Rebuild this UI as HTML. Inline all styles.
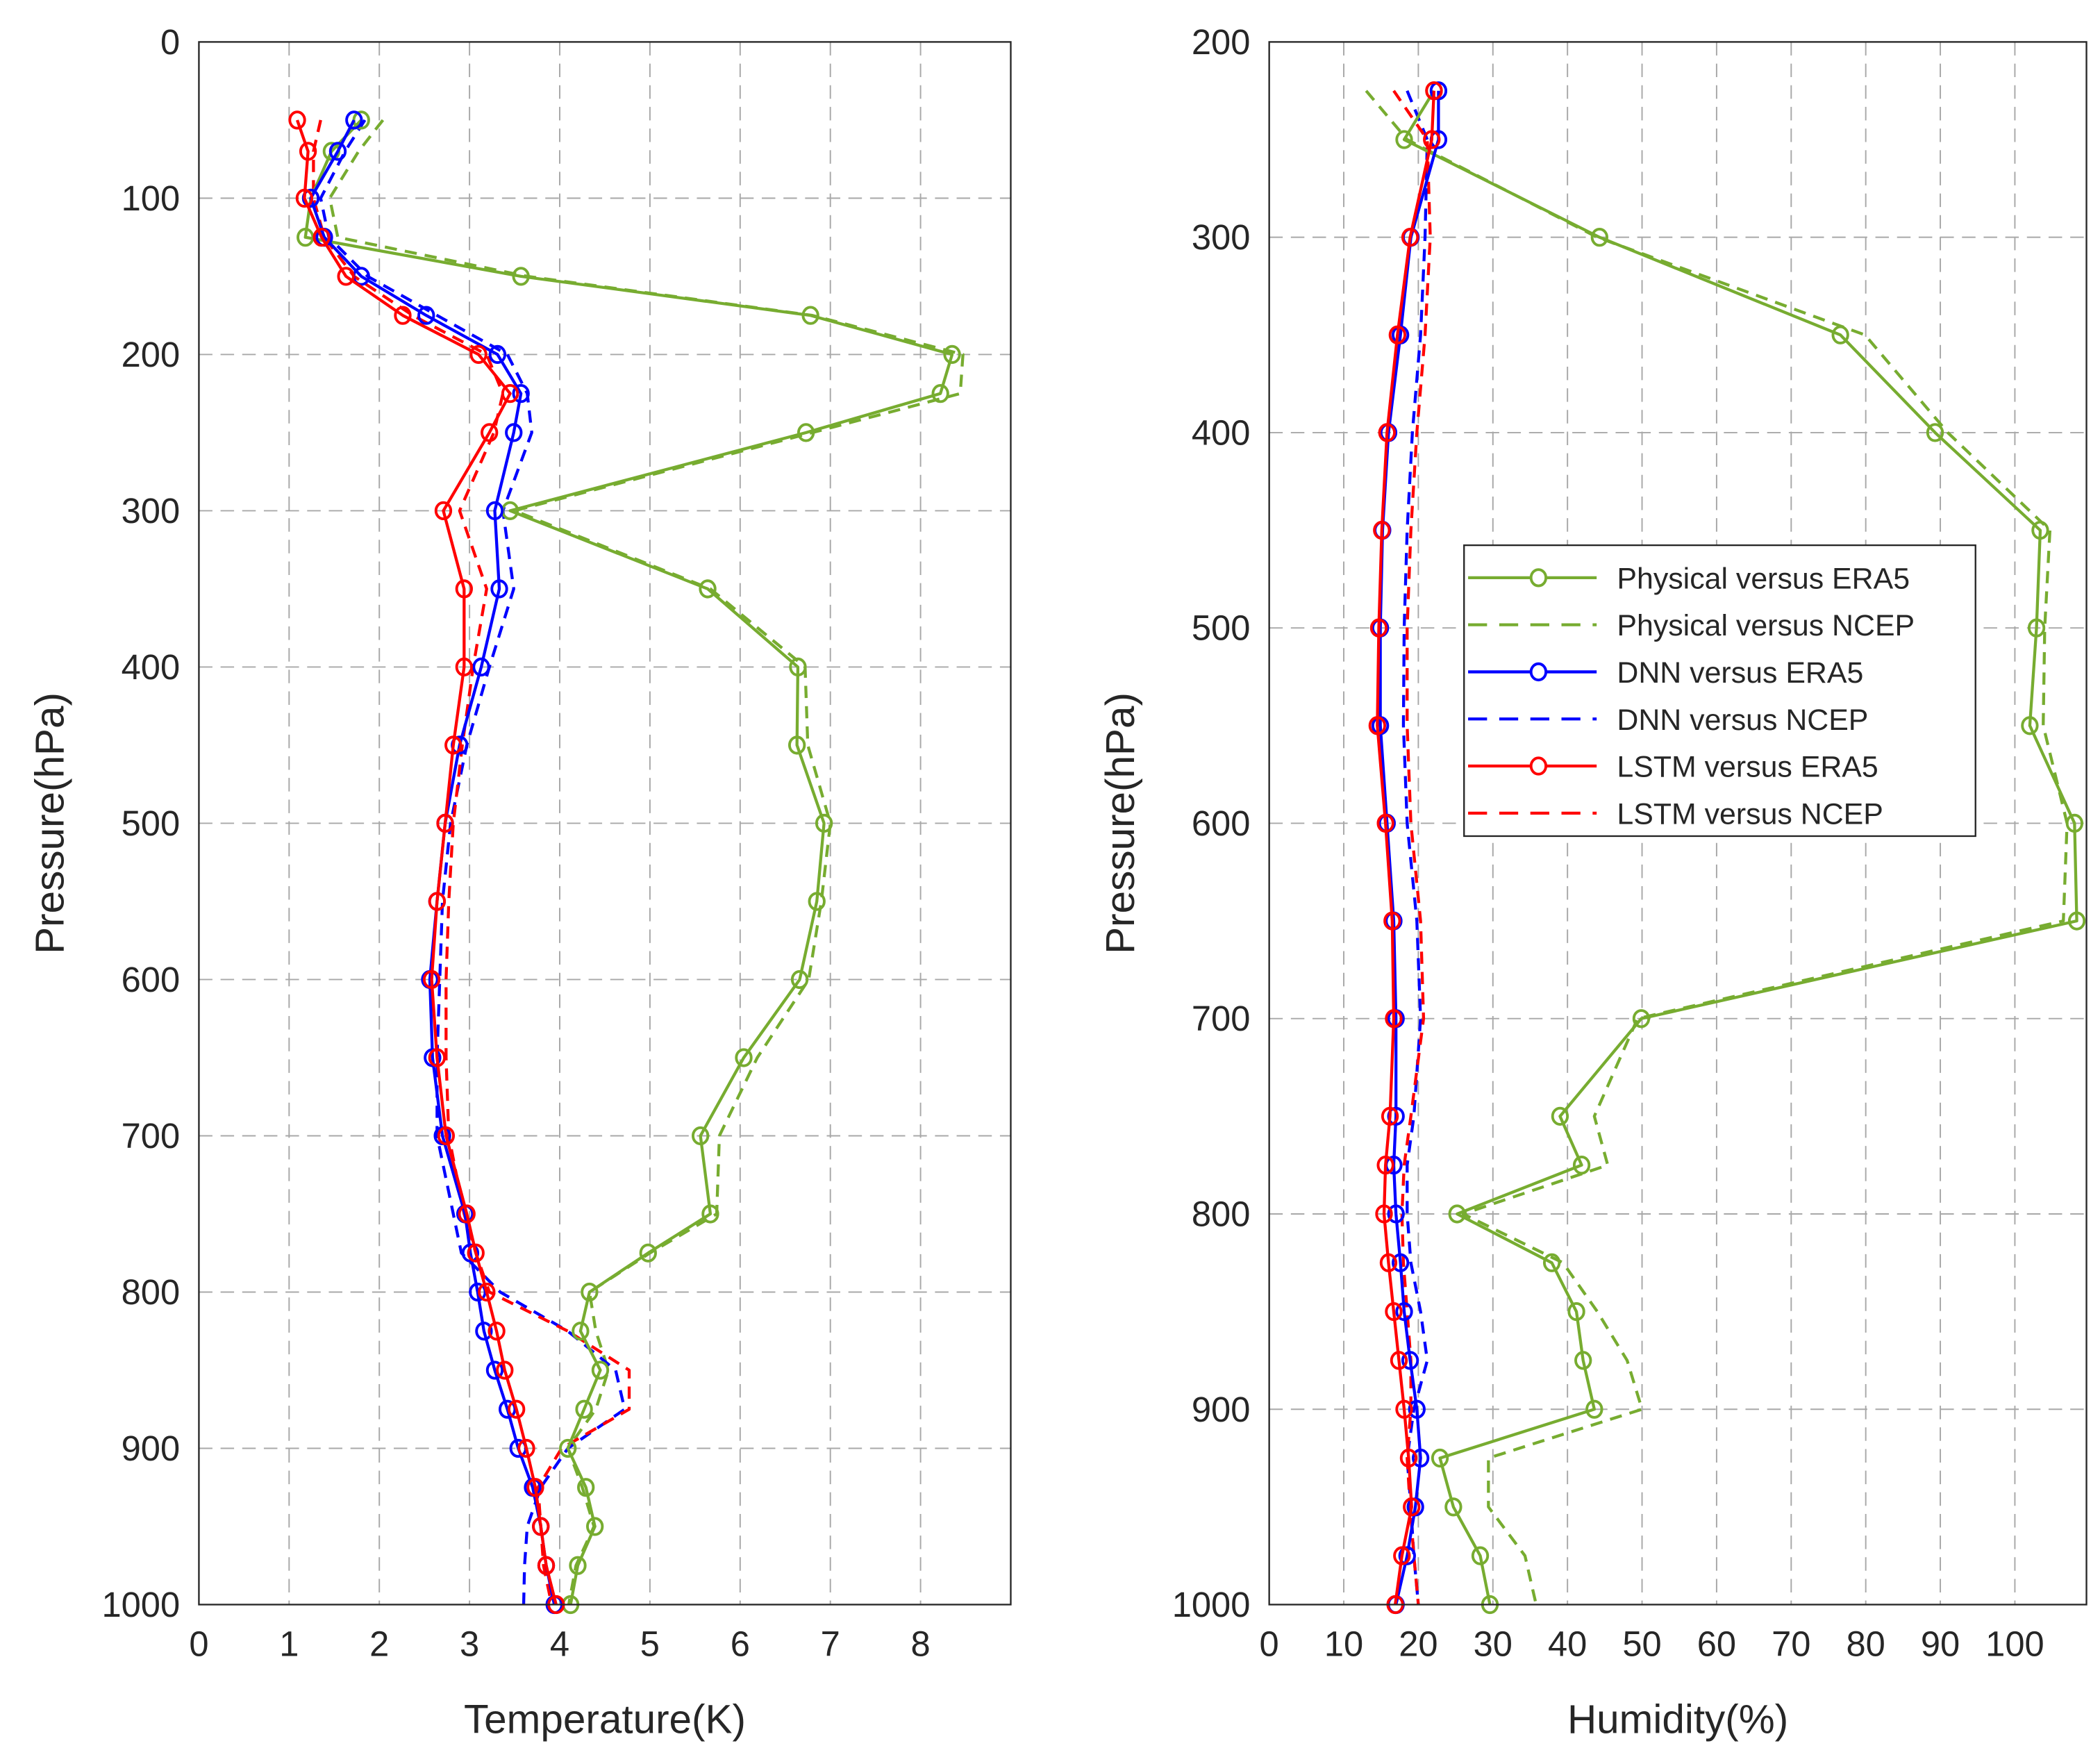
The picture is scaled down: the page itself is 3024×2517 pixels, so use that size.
<!DOCTYPE html>
<html><head><meta charset="utf-8"><style>
html,body{margin:0;padding:0;background:#fff;}
svg{display:block;font-family:"Liberation Sans",sans-serif;}
</style></head><body>
<svg id="fig" width="3024" height="2517" viewBox="0 0 1552 1292" preserveAspectRatio="none" xmlns="http://www.w3.org/2000/svg"></svg>
<script>
const tLevels=[50,70,100,125,150,175,200,225,250,300,350,400,450,500,550,600,650,700,750,775,800,825,850,875,900,925,950,975,1000];
const tPhysERA5=[1.8,1.47,1.24,1.18,3.57,6.78,8.35,8.22,6.73,3.45,5.64,6.64,6.63,6.93,6.85,6.66,6.04,5.56,5.67,4.98,4.33,4.23,4.45,4.27,4.09,4.29,4.39,4.2,4.12];
const tPhysNCEP=[2.04,1.77,1.45,1.54,3.64,6.8,8.47,8.44,6.8,3.5,5.67,6.72,6.75,7.0,6.9,6.76,6.19,5.77,5.74,5.0,4.33,4.4,4.54,4.4,4.09,4.25,4.38,4.18,4.1];
const tDnnERA5=[1.72,1.54,1.24,1.39,1.8,2.52,3.31,3.57,3.49,3.28,3.33,3.13,2.89,2.73,2.64,2.56,2.59,2.7,2.95,3.01,3.09,3.16,3.28,3.42,3.54,3.7,3.79,3.85,3.94];
const tDnnNCEP=[1.84,1.62,1.35,1.44,1.87,2.64,3.42,3.64,3.69,3.37,3.49,3.22,2.97,2.79,2.7,2.67,2.64,2.64,2.82,2.91,3.34,4.09,4.62,4.72,4.09,3.79,3.64,3.61,3.6];
const tLstmERA5=[1.09,1.21,1.17,1.36,1.63,2.26,3.1,3.45,3.22,2.71,2.94,2.94,2.82,2.73,2.64,2.58,2.64,2.74,2.97,3.07,3.19,3.3,3.39,3.52,3.63,3.73,3.79,3.85,3.96];
const tLstmNCEP=[1.35,1.27,1.27,1.39,1.72,2.37,3.19,3.37,3.27,2.89,3.19,3.04,2.92,2.82,2.77,2.74,2.74,2.77,2.94,3.07,3.22,4.09,4.77,4.77,4.02,3.76,3.79,3.82,3.91];
const hLevels=[225,250,300,350,400,450,500,550,600,650,700,750,775,800,825,850,875,900,925,950,975,1000];
const hPhysERA5=[22.1,18.1,44.3,76.6,89.3,103.4,102.9,102,108,108.3,49.9,39,41.9,25.2,37.9,41.2,42.1,43.6,22.9,24.7,28.3,29.6];
const hPhysNCEP=[13,18.5,44,79.9,91,104.7,104,103.8,107,106.5,49.4,43.6,45.4,26,39.4,44,48,50,29.4,29.4,34.3,35.8];
const hDnnERA5=[22.7,22.7,19,17.6,16,15.2,14.9,14.9,15.8,16.7,17,17,16.7,17,17.6,18.1,18.9,19.8,20.3,19.6,18.5,17];
const hDnnNCEP=[18.5,21.2,20.9,20.3,19.2,18.5,18.1,18,18.5,19.8,20.3,19.4,18.5,18.5,19,20.3,21.2,19.4,18.5,19,19.4,20];
const hLstmERA5=[22.1,21.8,18.9,17.2,15.8,15.1,14.7,14.5,15.6,16.5,16.7,16.2,15.6,15.4,16,16.7,17.4,18.1,18.7,19.1,17.8,16.9];
const hLstmNCEP=[16.7,21.2,21.6,20.9,19.8,19,18.5,18.5,19,20.3,20.7,19,18.1,17.8,18,18.5,19,19,18.5,18.9,19.4,20];
const tXTicks=[0,1,2,3,4,5,6,7,8];
const tYTicks=[0,100,200,300,400,500,600,700,800,900,1000];
const hXTicks=[0,10,20,30,40,50,60,70,80,90,100];
const hYTicks=[200,300,400,500,600,700,800,900,1000];
const legendLabels=["Physical versus ERA5","Physical versus NCEP","DNN versus ERA5","DNN versus NCEP","LSTM versus ERA5","LSTM versus NCEP"];

const G="#77AC30",B="#0000FF",R="#FF0000";
const NS="http://www.w3.org/2000/svg";
const svg=document.getElementById('fig');
function mk(tag,attrs,parent){const e=document.createElementNS(NS,tag);for(const k in attrs)e.setAttribute(k,attrs[k]);(parent||svg).appendChild(e);return e;}

function panel(cfg){
  const g=mk('g',{});
  
  
  const X=v=>cfg.x0+(v-cfg.xmin)/(cfg.xmax-cfg.xmin)*(cfg.x1-cfg.x0);
  const Y=v=>cfg.y0+(v-cfg.ymin)/(cfg.ymax-cfg.ymin)*(cfg.y1-cfg.y0);
  // grid
  cfg.xt.forEach(t=>{if(t>cfg.xmin){const l=mk('line',{x1:X(t),x2:X(t),y1:cfg.y0,y2:cfg.y1,stroke:'#a8a8a8','stroke-width':1,'stroke-dasharray':'10,6'},g);}});
  cfg.yt.forEach(t=>{if(t>cfg.ymin&&t<cfg.ymax){const l=mk('line',{x1:cfg.x0,x2:cfg.x1,y1:Y(t),y2:Y(t),stroke:'#a8a8a8','stroke-width':1,'stroke-dasharray':'10,6'},g);}});
  // series
  cfg.series.forEach(s=>{
    const pts=s.v.map((v,i)=>X(v)+','+Y(cfg.lev[i])).join(' ');
    const pl=mk('polyline',{points:pts,fill:'none',stroke:s.c,'stroke-width':2.2,'stroke-dasharray':s.dash?'9,6':'none','stroke-linejoin':'round'},g);
    
    
    if(!s.dash){s.v.forEach((v,i)=>{const m=mk('ellipse',{cx:X(v),cy:Y(cfg.lev[i]),rx:5.5,ry:6,fill:'none',stroke:s.c,'stroke-width':2},g);
      
      });}
  });
  // box
  const bx=mk('rect',{x:cfg.x0,y:cfg.y0,width:cfg.x1-cfg.x0,height:cfg.y1-cfg.y0,fill:'none',stroke:'#262626','stroke-width':1.2},g);
  
  
  cfg.xt.forEach(t=>{const tx=mk('text',{x:X(t),y:cfg.y1+38,'text-anchor':'middle','font-size':26,fill:'#262626'},g);tx.textContent=t;
    });
  cfg.yt.forEach(t=>{const tx=mk('text',{x:cfg.x0-14,y:Y(t)+9,'text-anchor':'end','font-size':26,fill:'#262626'},g);tx.textContent=t;
    });
  const xl=mk('text',{x:(cfg.x0+cfg.x1)/2,y:1281,'text-anchor':'middle','font-size':30,fill:'#262626'},g);xl.textContent=cfg.xlabel;
  
  const yl=mk('text',{x:0,y:0,'text-anchor':'middle','font-size':30,fill:'#262626',transform:`translate(${cfg.x0-100},${(cfg.y0+cfg.y1)/2}) rotate(-90)`},g);yl.textContent='Pressure(hPa)';
  
}
panel({name:'temperature-panel',x0:147,x1:747,y0:31,y1:1186,xmin:0,xmax:9,ymin:0,ymax:1000,xt:tXTicks,yt:tYTicks,lev:tLevels,xlabel:'Temperature(K)',
  series:[{n:'physical-ncep',v:tPhysNCEP,c:G,dash:1},{n:'dnn-ncep',v:tDnnNCEP,c:B,dash:1},{n:'lstm-ncep',v:tLstmNCEP,c:R,dash:1},
    {n:'physical-era5',v:tPhysERA5,c:G},{n:'dnn-era5',v:tDnnERA5,c:B},{n:'lstm-era5',v:tLstmERA5,c:R}]});
panel({name:'humidity-panel',x0:938,x1:1542,y0:31,y1:1186,xmin:0,xmax:109.6,ymin:200,ymax:1000,xt:hXTicks,yt:hYTicks,lev:hLevels,xlabel:'Humidity(%)',
  series:[{n:'physical-ncep',v:hPhysNCEP,c:G,dash:1},{n:'dnn-ncep',v:hDnnNCEP,c:B,dash:1},{n:'lstm-ncep',v:hLstmNCEP,c:R,dash:1},
    {n:'physical-era5',v:hPhysERA5,c:G},{n:'dnn-era5',v:hDnnERA5,c:B},{n:'lstm-era5',v:hLstmERA5,c:R}]});
// legend
const lg=mk('g',{});


mk('rect',{x:1082,y:403,width:378,height:215,fill:'#fff',stroke:'#262626','stroke-width':1.2},lg);
const lc=[G,G,B,B,R,R];
legendLabels.forEach((lab,i)=>{
  const y=427+i*34.8;
  const e=mk('g',{},lg);
  
  
  const dash=i%2===1;
  mk('line',{x1:1085,x2:1180,y1:y,y2:y,stroke:lc[i],'stroke-width':2.2,'stroke-dasharray':dash?'14,9':'none'},e);
  if(!dash)mk('ellipse',{cx:1137,cy:y,rx:5.5,ry:6,fill:'#fff',stroke:lc[i],'stroke-width':2},e);
  const t=mk('text',{x:1195,y:y+8,'font-size':22,fill:'#262626'},e);t.textContent=lab;
});
</script>
</body></html>
